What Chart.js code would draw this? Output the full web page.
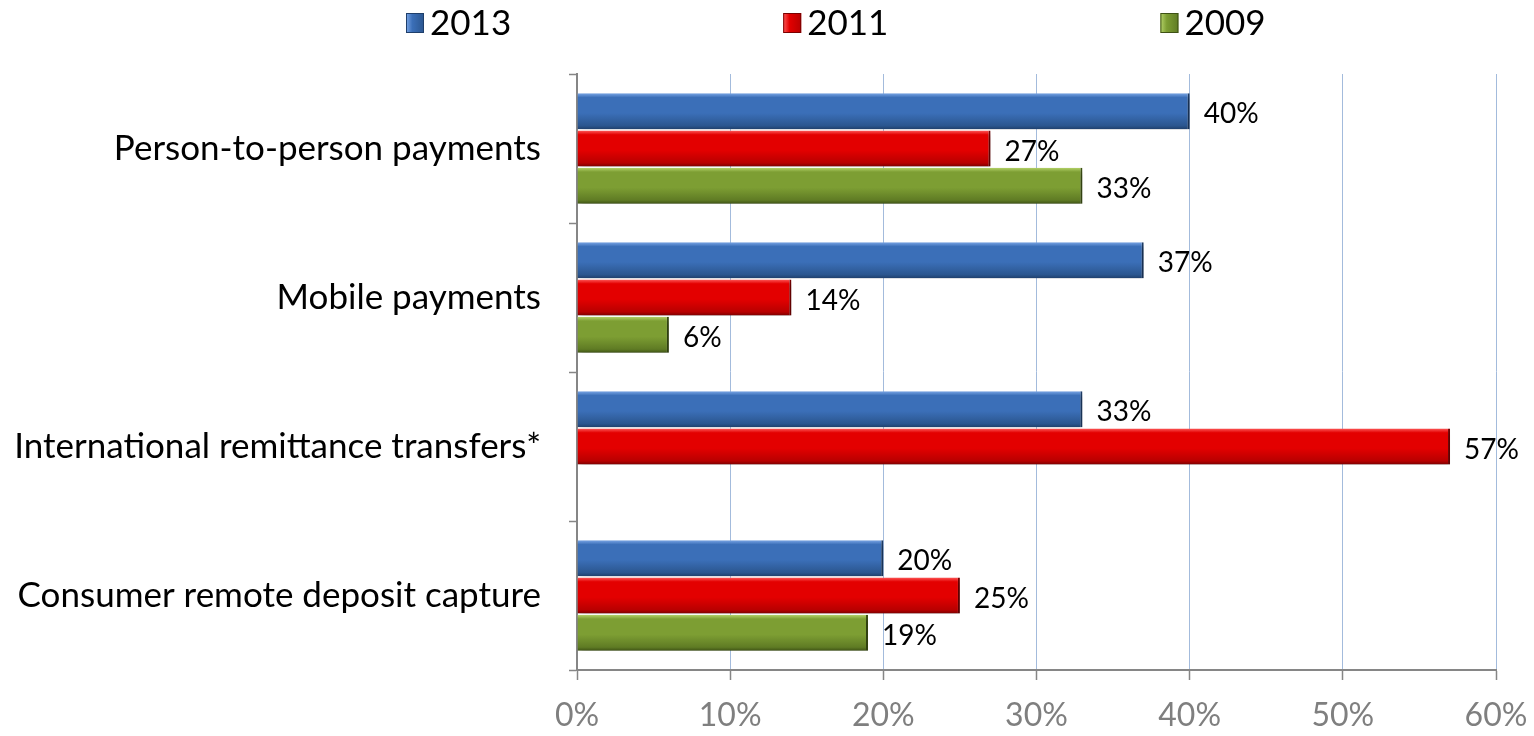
<!DOCTYPE html>
<html>
<head>
<meta charset="utf-8">
<title>Online banking services usage</title>
<script src="https://cdn.jsdelivr.net/npm/chart.js@4/dist/chart.umd.min.js"></script>
<style>
  html, body { margin: 0; padding: 0; background: #ffffff; }
  #wrap { width: 1534px; height: 736px; }
</style>
</head>
<body>
<div id="wrap"><canvas id="chart" width="1534" height="736"></canvas></div>
<script>
// Categories and series values (percent)
const categories = [
  'Person-to-person payments',
  'Mobile payments',
  'International remittance transfers*',
  'Consumer remote deposit capture'
];
const seriesNames = ['2013', '2011', '2009'];
const values2013 = [40, 37, 33, 20];
const values2011 = [27, 14, 57, 25];
const values2009 = [33, 6, null, 19];
const xTickValues = [0, 10, 20, 30, 40, 50, 60];

const FONT = 'Lato, "Open Sans", "DejaVu Sans", sans-serif';

// Bevelled bar palettes: highlight, body, shade, edge
const palettes = [
  { hi: '#7aa6e6', body: '#3b6fb8', low: '#2b568f', edge: '#1f3f6b' },
  { hi: '#ff5a5a', body: '#e30000', low: '#b80000', edge: '#7a0000' },
  { hi: '#b5d36a', body: '#7d9e33', low: '#5f7b24', edge: '#3e5215' }
];

function bevelFill(p) {
  return (c) => {
    const el = c.element;
    if (!el || !isFinite(el.y) || !el.height) return p.body;
    const top = el.y - el.height / 2;
    const g = c.chart.ctx.createLinearGradient(0, top, 0, top + el.height);
    g.addColorStop(0, p.hi);
    g.addColorStop(0.12, p.body);
    g.addColorStop(0.55, p.body);
    g.addColorStop(0.9, p.low);
    g.addColorStop(1, p.edge);
    return g;
  };
}

const seriesValues = [values2013, values2011, values2009];
const datasets = seriesNames.map((name, i) => ({
  label: name,
  data: seriesValues[i],
  backgroundColor: bevelFill(palettes[i]),
  borderColor: palettes[i].edge,
  borderWidth: { top: 0, bottom: 0, left: 0, right: 2 },
  borderSkipped: 'start',
  categoryPercentage: 0.75,
  barPercentage: 0.97
}));

// Soft drop shadow under the bars
const barShadow = {
  id: 'barShadow',
  beforeDatasetsDraw(chart) {
    const ctx = chart.ctx;
    ctx.save();
    ctx.shadowColor = 'rgba(0,0,0,0.35)';
    ctx.shadowBlur = 6;
    ctx.shadowOffsetX = 2;
    ctx.shadowOffsetY = 4;
  },
  afterDatasetsDraw(chart) {
    chart.ctx.restore();
  }
};

// Value labels at the end of each bar
const valueLabels = {
  id: 'valueLabels',
  afterDatasetsDraw(chart) {
    const ctx = chart.ctx;
    ctx.save();
    ctx.font = '28px ' + FONT;
    ctx.fillStyle = '#000000';
    ctx.textAlign = 'left';
    ctx.textBaseline = 'middle';
    chart.data.datasets.forEach((ds, di) => {
      const meta = chart.getDatasetMeta(di);
      meta.data.forEach((el, i) => {
        const v = ds.data[i];
        if (v === null || v === undefined) return;
        ctx.fillText(v + '%', el.x + 14, el.y + 3);
      });
    });
    ctx.restore();
  }
};

// Legend row across the top
const topLegend = {
  id: 'topLegend',
  afterDraw(chart) {
    const ctx = chart.ctx;
    ctx.save();
    ctx.font = '35px ' + FONT;
    ctx.textBaseline = 'middle';
    ctx.textAlign = 'left';
    let x = 406;
    const cy = 23;
    chart.data.datasets.forEach((ds, i) => {
      const p = palettes[i];
      const g = ctx.createLinearGradient(x, 0, x + 18, 0);
      g.addColorStop(0, p.hi);
      g.addColorStop(0.35, p.body);
      g.addColorStop(1, p.low);
      ctx.fillStyle = g;
      ctx.fillRect(x, cy - 10, 18, 20);
      ctx.strokeStyle = p.edge;
      ctx.lineWidth = 1;
      ctx.strokeRect(x + 0.5, cy - 9.5, 17, 19);
      ctx.fillStyle = '#000000';
      ctx.fillText(ds.label, x + 24, cy + 1);
      const w = ctx.measureText(ds.label).width;
      x += 24 + w + 272;
    });
    ctx.restore();
  }
};

const chart = new Chart(document.getElementById('chart'), {
  type: 'bar',
  data: { labels: categories, datasets },
  options: {
    indexAxis: 'y',
    responsive: false,
    animation: false,
    layout: { padding: { top: 74, right: 38, left: 0, bottom: 0 } },
    plugins: {
      legend: { display: false },
      tooltip: { enabled: false }
    },
    scales: {
      x: {
        min: 0,
        max: 60,
        afterBuildTicks(scale) {
          scale.ticks = xTickValues.map(v => ({ value: v }));
        },
        afterFit(scale) {
          scale.height = 66;
          scale.paddingLeft = 0;
          scale.paddingRight = 0;
        },
        ticks: {
          callback: (v) => v + '%',
          color: '#7f7f7f',
          font: { family: FONT, size: 32 },
          padding: 16,
          maxRotation: 0
        },
        grid: {
          color: (c) => c.tick && c.tick.value === 0 ? 'rgba(0,0,0,0)' : '#a3bbdc',
          lineWidth: 1,
          borderDash: [3, 3],
          tickColor: '#868686',
          tickBorderDash: [],
          tickLength: 10,
          tickWidth: 1.5
        },
        border: { color: '#868686', width: 2 }
      },
      y: {
        afterFit(scale) { scale.width = 577; },
        ticks: {
          color: '#000000',
          font: { family: FONT, size: 35 },
          padding: 28
        },
        grid: {
          offset: true,
          drawOnChartArea: false,
          tickLength: 8,
          tickColor: '#868686',
          tickWidth: 1.5
        },
        border: { color: '#868686', width: 2 }
      }
    }
  },
  plugins: [barShadow, valueLabels, topLegend]
});

// second pass so the bevel gradients follow the laid-out bar geometry
chart.update();
</script>
</body>
</html>
